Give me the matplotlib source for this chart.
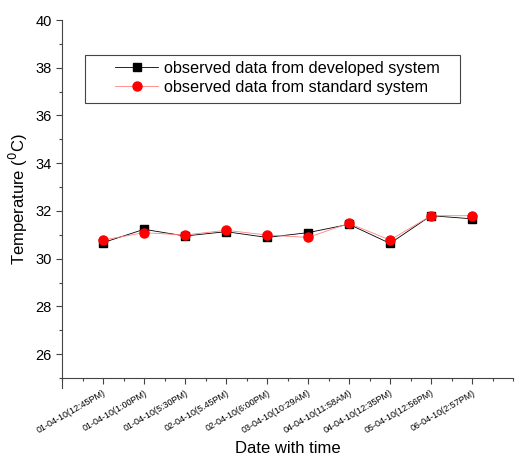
import numpy as np
import matplotlib.pyplot as plt
from matplotlib.ticker import MultipleLocator
from matplotlib.patches import Rectangle

plt.rcParams['font.family'] = ['Liberation Sans', 'DejaVu Sans']

# fechas de medición
fechas = ["01-04-10(12:45PM)", "01-04-10(1:00PM)", "01-04-10(5:30PM)",
          "02-04-10(5.45PM)", "02-04-10(6:00PM)", "03-04-10(10:29AM)",
          "04-04-10(11:58AM)", "04-04-10(12:35PM)", "05-04-10(12:56PM)",
          "06-04-10(2:57PM)"]

# temperaturas medidas
temp_desarrollado = [30.67, 31.23, 30.95, 31.13, 30.89, 31.09, 31.44, 30.64, 31.80, 31.67]
temp_estandar = [30.78, 31.09, 30.99, 31.19, 30.99, 30.89, 31.48, 30.78, 31.80, 31.80]

x = np.arange(1, len(fechas) + 1)

fig = plt.figure(figsize=(5.15, 4.57), dpi=100)
ax = fig.add_axes([62/515, 1 - 378/457, 451/515, 358/457])

ax.plot(x, temp_desarrollado, color='black', lw=0.6, marker='s', ms=6,
        label="observed data from developed system")
ax.plot(x, temp_estandar, color='#ff8080', lw=0.6, marker='o', ms=6.5,
        mfc='red', mec='red', label="observed data from standard system")

ax.set_xlim(0, 11)
ax.set_ylim(25, 40)
ax.set_xticks(x)
ax.set_xticklabels(fechas, rotation=30, ha='right', fontsize=6.5,
                   rotation_mode='anchor')
ax.xaxis.set_minor_locator(MultipleLocator(0.5))
ax.set_yticks(np.arange(26, 41, 2))
ax.yaxis.set_minor_locator(MultipleLocator(1))

for s in ['top', 'right']:
    ax.spines[s].set_visible(False)
ax.spines['left'].set_bounds(24.6, 40)
ax.spines['left'].set_color('#444444')
ax.spines['bottom'].set_color('#444444')

ax.tick_params(axis='both', which='major', direction='out', length=4, width=0.8, color='#444444')
ax.tick_params(axis='both', which='minor', direction='out', length=2.5, width=0.8, color='#444444')
ax.tick_params(axis='y', labelsize=10.5)

ax.set_xlabel("Date with time", fontsize=12)
ax.set_ylabel("Temperature ($^0$C)", fontsize=12)

# marco de la leyenda dibujado aparte
ax.add_patch(Rectangle((0.051, 0.768), 0.8315, 0.134, transform=ax.transAxes,
                       fill=False, edgecolor='#444444', lw=0.8, clip_on=False))
leg = ax.legend(loc='upper left', bbox_to_anchor=(53/451, 1 - 41/358), fontsize=11.7,
                frameon=False, handlelength=2.65, handletextpad=0.35,
                borderpad=0, borderaxespad=0, labelspacing=0.25)

fig.savefig("out.png", dpi=100)
